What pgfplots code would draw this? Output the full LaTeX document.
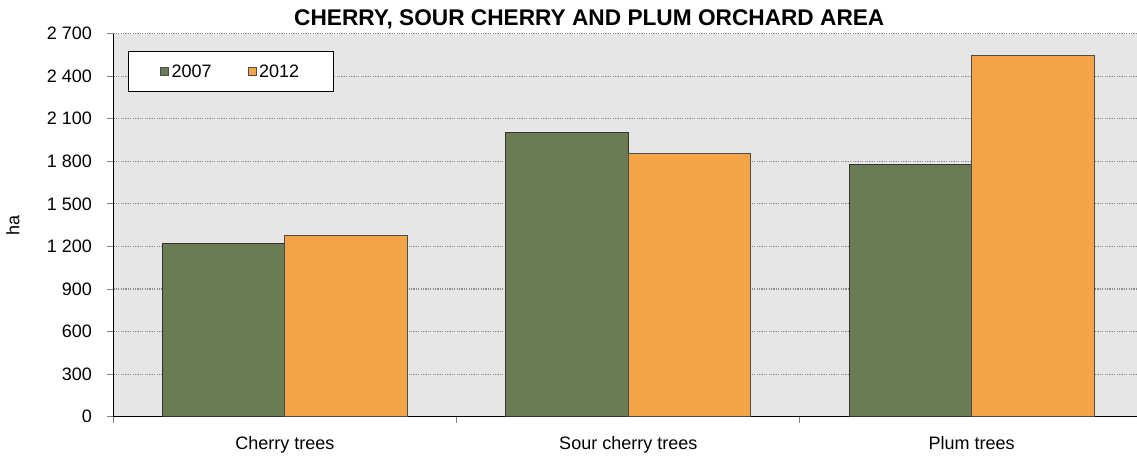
\documentclass[border=0pt]{standalone}
\usepackage{fontspec}
\setmainfont{Liberation Sans}
\usepackage{pgfplots}
\pgfplotsset{compat=1.18}
\definecolor{cgreen}{HTML}{6B7C55}
\definecolor{corange}{HTML}{F2A446}
\definecolor{cbg}{HTML}{E6E6E6}
\begin{document}
\begin{tikzpicture}
\path[use as bounding box] (0,0) rectangle (852.75pt,342.75pt);
\begin{axis}[
  at={(84.98pt,30.2pt)}, anchor=south west,
  scale only axis, width=767.8pt, height=287.4pt,
  xmin=-0.5, xmax=2.482, ymin=0, ymax=2700,
  ybar=0pt, bar width=91.9pt,
  axis background/.style={fill=cbg},
  axis lines*=left, axis line style={-},
  x axis line style={line width=1pt, draw=black},
  y axis line style={line width=0.75pt, draw=black},
  xtick={0,1,2},
  xticklabels={Cherry trees, Sour cherry trees, Plum trees},
  major x tick style={draw=none},
  minor xtick={-0.5,0.5,1.5},
  minor x tick style={draw=gray, line width=0.75pt},
  minor tick length=4.5pt,
  ytick={0,300,...,2700},
  major y tick style={draw=gray, line width=0.75pt},
  major tick length=4.5pt,
  tick align=outside,
  ymajorgrids,
  major y grid style={draw=gray!90, line width=0.9pt, dash pattern=on 0.9pt off 0.9pt},
  /pgf/number format/assume math mode=true,
  /pgf/number format/1000 sep={\ },
  ticklabel style={font=\fontsize{13.5}{16}\selectfont},
  yticklabel style={xshift=-8pt},
  xticklabel style={yshift=-7pt},
  ylabel={ha},
  ylabel style={at={(axis description cs:-0.098,0.5)}, anchor=center, font=\fontsize{13.5}{16}\selectfont},
  title={CHERRY, SOUR CHERRY AND PLUM ORCHARD AREA},
  title style={at={(axis description cs:0.465,1)}, anchor=base, yshift=0pt, font=\fontsize{17}{20}\selectfont\bfseries},
  legend columns=2,
  legend style={at={(axis description cs:0.0141,0.9536)}, anchor=north west,
    draw=black, fill=white, line width=0.75pt, inner xsep=24pt, inner ysep=7.5pt,
    font=\fontsize{13.5}{16}\selectfont,
    /tikz/every even column/.append style={column sep=25pt},
    nodes={inner xsep=2pt}},
  legend image code/.code={\draw[#1, draw=black!70, line width=0.6pt] (3pt,-3pt) rectangle (9pt,3pt);},
]
\addplot[fill=cgreen, draw=black!80, line width=0.75pt] coordinates {(0,1221) (1,2000) (2,1778)};
\addplot[fill=corange, draw=black!70, line width=0.75pt] coordinates {(0,1278) (1,1855) (2,2543)};
\legend{2007,2012}
\end{axis}
\end{tikzpicture}
\end{document}
